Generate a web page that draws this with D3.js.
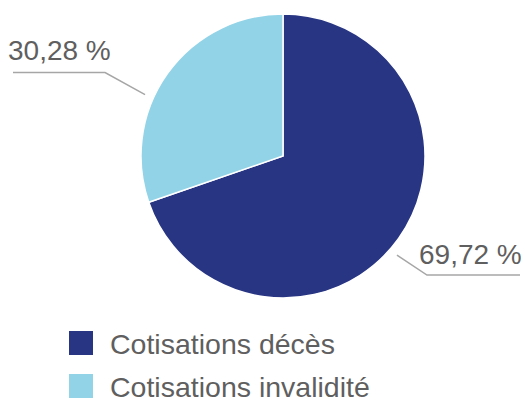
<!DOCTYPE html>
<html lang="fr">
<head>
<meta charset="UTF-8">
<script src="https://d3js.org/d3.v7.min.js"></script>
<style>
  body { margin: 0; background: #fff; }
  text { font-family: "Liberation Sans", Arial, sans-serif; fill: #5f5f5f; }
</style>
</head>
<body>
<script>
  const categories = ["Cotisations décès", "Cotisations invalidité"];
  const values = [69.72, 30.28];
  const labels = ["69,72 %", "30,28 %"];
  const colors = ["#283583", "#92d3e8"];

  const width = 525, height = 400;
  const cx = 283, cy = 156, radius = 142;

  const svg = d3.select("body").append("svg")
    .attr("width", width)
    .attr("height", height);

  const pie = d3.pie().sort(null).value(d => d)(values);
  const arc = d3.arc().innerRadius(0).outerRadius(radius);

  const g = svg.append("g").attr("transform", `translate(${cx},${cy})`);
  g.selectAll("path")
    .data(pie)
    .enter().append("path")
    .attr("d", arc)
    .attr("fill", (d, i) => colors[i])
    .attr("stroke", "#fff")
    .attr("stroke-width", 1.5);

  // leader lines: start angle (deg), elbow offset, end x, text placement
  const leaders = [
    { angle: 131, elbow: [30, 20], endX: 520, textX: 419, textY: 264 },
    { angle: 294, elbow: [-40, -22], endX: 13, textX: 8, textY: 60 }
  ];

  leaders.forEach((l, i) => {
    const p = d3.pointRadial(l.angle * Math.PI / 180, 151);
    const s = [cx + p[0], cy + p[1]];
    const e = [s[0] + l.elbow[0], s[1] + l.elbow[1]];
    svg.append("path")
      .attr("d", d3.line()([s, e, [l.endX, e[1]]]))
      .attr("fill", "none")
      .attr("stroke", "#a6a6a6")
      .attr("stroke-width", 1.5);
    svg.append("text")
      .attr("x", l.textX)
      .attr("y", l.textY)
      .attr("font-size", 28)
      .text(labels[i]);
  });

  const legend = svg.append("g");
  categories.forEach((c, i) => {
    const y = 331 + i * 43;
    legend.append("rect")
      .attr("x", 69).attr("y", y)
      .attr("width", 24).attr("height", 24)
      .attr("fill", colors[i]);
    legend.append("text")
      .attr("x", 110).attr("y", y + 23)
      .attr("font-size", 28.5)
      .text(c);
  });
</script>
</body>
</html>
